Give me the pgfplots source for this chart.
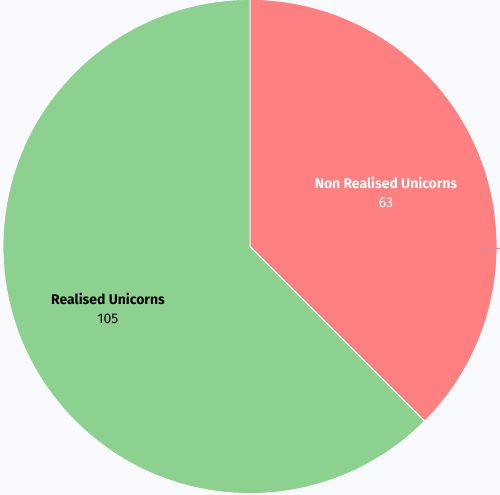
\documentclass[border=0pt]{standalone}
\usepackage{pgfplots}
\usepackage{pgfplotstable}
\pgfplotsset{compat=1.18}
\usepackage{fontspec}
\setmainfont{Fira Sans}
\definecolor{bgc}{RGB}{249,250,253}
\definecolor{redc}{RGB}{255,128,128}
\definecolor{greenc}{RGB}{141,209,144}
\definecolor{tickc}{RGB}{225,135,150}
\pgfplotstableread{
label value
{Non Realised Unicorns} 63
{Realised Unicorns} 105
}\piedata
\begin{document}
\begin{tikzpicture}
\pgfplotstablegetelem{0}{value}\of\piedata \let\va\pgfplotsretval
\pgfplotstablegetelem{1}{value}\of\piedata \let\vb\pgfplotsretval
\pgfmathsetmacro\tot{\va+\vb}
\pgfmathsetmacro\anga{360*(\va/\tot)}
\pgfmathsetmacro\angb{360*(\vb/\tot)}
\begin{axis}[
  x=1bp, y=1bp,
  xmin=0, xmax=500, ymin=0, ymax=495,
  hide axis, clip=false,
  at={(0,0)}, anchor=origin,
]
\fill[bgc] (axis cs:0,0) rectangle (axis cs:500,495);
\filldraw[fill=redc, draw=white, line width=0.8bp]
  (axis cs:250,248.5) -- ++(90:247bp) arc[start angle=90, delta angle=-\anga, radius=247bp] -- cycle;
\filldraw[fill=greenc, draw=white, line width=0.8bp]
  (axis cs:250,248.5) -- ++({90-\anga}:247bp) arc[start angle={90-\anga}, delta angle=-\angb, radius=247bp] -- cycle;
\draw[tickc, line width=0.8bp] (axis cs:478,247) -- (axis cs:500,247);
\node[align=center, text=white, font=\fontsize{14}{19}\selectfont] at (axis cs:386,303)
  {\textbf{Non Realised Unicorns}\\\va};
\node[align=center, text=black, font=\fontsize{14}{19}\selectfont] at (axis cs:108,187)
  {\textbf{Realised Unicorns}\\\vb};
\end{axis}
\pgfresetboundingbox
\path[use as bounding box] (0,0) rectangle (500bp,495bp);
\end{tikzpicture}
\end{document}
